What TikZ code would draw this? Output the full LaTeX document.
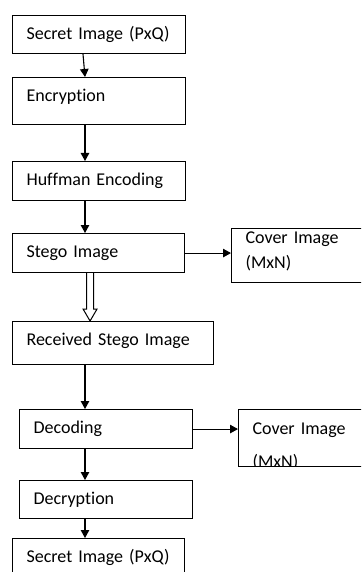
\documentclass[tikz,border=0pt]{standalone}
\usepackage{fontspec}
\setmainfont[Ligatures={NoCommon,NoRequired,NoContextual}]{Carlito}
\usetikzlibrary{arrows.meta}
\tikzset{
  box/.style={draw, line width=1.1pt, anchor=north west, inner xsep=14pt, inner ysep=0pt,
    text height=24pt, align=left, font=\fontsize{18}{22}\selectfont},
  arr/.style={line width=1.1pt, -{Triangle[length=8pt,width=8.5pt]}}
}
\begin{document}
\begin{tikzpicture}[x=1pt,y=-1pt]
\clip (0,0) rectangle (361,572);
\fill[white] (0,0) rectangle (361,572);

% sender side
\node[box, text width=145pt, text depth=14pt] (secA) at (12,15) {Secret Image (PxQ)};
\node[box, text width=145pt, text depth=23pt] (enc) at (12,77) {Encryption};
\node[box, text width=145pt, text depth=15pt] (huff) at (12,161) {Huffman Encoding};
\node[box, text width=144pt, text depth=15pt] (stego) at (12,233) {Stego Image};
\node[box, text width=112pt, text height=15pt, text depth=39pt] (coverA) at (231,228) {Cover Image\\[3pt](MxN)};

% receiver side
\node[box, text width=173pt, text depth=19pt] (recv) at (12,321) {Received Stego Image};
\node[box, text width=145pt, text depth=15pt] (dec) at (19,409) {Decoding};
\begin{scope}
\clip (237.5,408.5) rectangle (380,466.5);
\node[box, text width=112pt, text height=25pt, text depth=32pt] (coverB) at (238,409) {Cover Image\\[11pt](MxN)};
\end{scope}
\node[box, text width=145pt, text depth=14pt] (decr) at (19,480) {Decryption};
\node[box, text width=144pt, text depth=26pt] (secB) at (12,538) {Secret Image (PxQ)};

\draw[arr] ([xshift=71pt]secA.south west) -- ([xshift=73pt]enc.north west);
\draw[arr] ([xshift=73pt]enc.south west) -- ([xshift=73pt]huff.north west);
\draw[arr] ([xshift=73pt]huff.south west) -- ([xshift=73pt]stego.north west);
\draw[arr] (stego.east) -- (coverA.west |- stego.east);

% hollow transmission arrow
\coordinate (t1) at ([xshift=-8.5pt]stego.south);
\coordinate (t2) at (t1 |- recv.north);
\draw[line width=1pt, fill=white] ([xshift=-3.5pt]t1) -- ([xshift=-3.5pt,yshift=12pt]t2)
  -- ([xshift=-7pt,yshift=12pt]t2) -- (t2) -- ([xshift=7pt,yshift=12pt]t2)
  -- ([xshift=3.5pt,yshift=12pt]t2) -- ([xshift=3.5pt]t1);

\draw[arr] ([xshift=73pt]recv.south west) -- ([xshift=66pt]dec.north west);
\draw[arr] (dec.east) -- (coverB.west |- dec.east);
\draw[arr] ([xshift=66pt]dec.south west) -- ([xshift=66pt]decr.north west);
\draw[arr] ([xshift=66pt]decr.south west) -- ([xshift=73pt]secB.north west);
\end{tikzpicture}
\end{document}
